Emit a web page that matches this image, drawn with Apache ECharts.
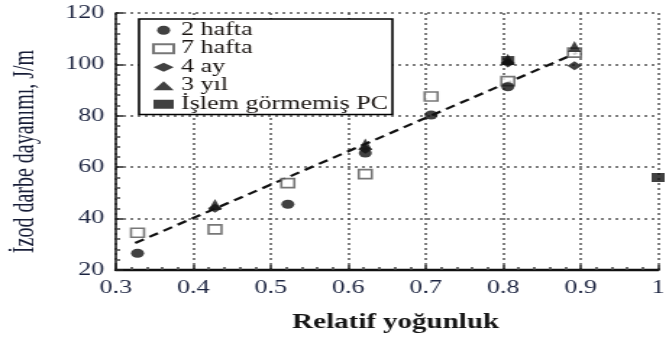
<!DOCTYPE html>
<html>
<head>
<meta charset="utf-8">
<script src="https://cdn.jsdelivr.net/npm/echarts@6/dist/echarts.min.js"></script>
<style>
  html, body { margin: 0; padding: 0; background: #fff; overflow: hidden; }
  body { width: 669px; height: 340px; }
  /* chart laid out narrow, then widened horizontally */
  #c { width: 462px; height: 340px; transform: scaleX(1.448); transform-origin: 0 0; }
</style>
</head>
<body>
<div id="c"></div>
<script>
// Relative density vs Izod impact strength
const seriesNames = ['2 hafta', '7 hafta', '4 ay', '3 yıl', 'İşlem görmemiş PC'];

const hafta2 = [[0.328, 26.5], [0.522, 45.6], [0.622, 65.5], [0.707, 80.3], [0.806, 91.3]];
const hafta7 = [[0.328, 34.5], [0.428, 35.8], [0.522, 53.8], [0.622, 57.3], [0.707, 87.5], [0.806, 93.5], [0.892, 104.6]];
const ay4 = [[0.428, 44.0], [0.622, 67.0], [0.806, 100.5], [0.892, 99.5]];
const yil3 = [[0.428, 45.5], [0.622, 69.0], [0.806, 102.0], [0.892, 107.0]];
const islemsizPC = [[0.806, 101.5], [1.0, 56.0]];
const trendLine = [[0.325, 30.5], [0.895, 104.5]];

// tick positions of both axes
const xTickValues = [0.3, 0.4, 0.5, 0.6, 0.7, 0.8, 0.9, 1.0];
const yTickValues = [20, 40, 60, 80, 100, 120];

const serif = 'Liberation Serif';
const black = '#111';
const gridDots = { color: '#555', width: 1.5, type: [2, 3] };

const xMin = xTickValues[0], xMax = xTickValues[xTickValues.length - 1];
const yMin = yTickValues[0], yMax = yTickValues[yTickValues.length - 1];

const chart = echarts.init(document.getElementById('c'), null, { renderer: 'canvas' });

chart.setOption({
  backgroundColor: '#fff',
  animation: false,
  grid: { left: 80, right: 1, top: 13, bottom: 70 },
  legend: {
    data: seriesNames,
    orient: 'vertical',
    left: 96,
    top: 19,
    padding: [2, 3, 1, 9],
    itemGap: 0,
    itemWidth: 14,
    itemHeight: 9,
    borderColor: '#000',
    borderWidth: 1.6,
    backgroundColor: '#fff',
    z: 10,
    textStyle: { fontFamily: serif, fontSize: 18, lineHeight: 18.5, color: '#1a1512' }
  },
  xAxis: {
    type: 'value',
    min: xMin, max: xMax, interval: 0.1,
    name: 'Relatif yoğunluk',
    nameLocation: 'middle',
    nameGap: 43,
    nameTextStyle: { fontFamily: serif, fontSize: 20, fontWeight: 'bold', color: '#151515', padding: [0, 0, 0, 12] },
    axisLine: { show: true, onZero: false, lineStyle: { color: '#111', width: 2.4 } },
    axisTick: { show: true, inside: true, length: 5, lineStyle: { color: '#222', width: 1.5 } },
    minorTick: { show: true, splitNumber: 5, length: 3, lineStyle: { color: '#444', width: 1.5 } },
    axisLabel: {
      fontFamily: serif, fontSize: 18, color: '#1c2440', margin: 9,
      formatter: v => (Math.abs(v - 1) < 1e-9 ? '1' : v.toFixed(1))
    },
    splitLine: { show: true, lineStyle: gridDots }
  },
  yAxis: {
    type: 'value',
    min: yMin, max: yMax, interval: 20,
    name: 'İzod darbe dayanımı, J/m',
    nameLocation: 'middle',
    nameGap: 52,
    nameRotate: 90,
    nameTextStyle: { fontFamily: serif, fontSize: 20, color: '#161c36', padding: [0, 20, 0, 0] },
    axisLine: { show: true, onZero: false, lineStyle: { color: '#111', width: 1.5 } },
    axisTick: { show: true, inside: true, length: 5, lineStyle: { color: '#222', width: 1.5 } },
    minorTick: { show: true, splitNumber: 5, length: 3, lineStyle: { color: '#444', width: 1.5 } },
    axisLabel: { fontFamily: serif, fontSize: 18, color: '#1c2440', margin: 8 },
    splitLine: { show: true, lineStyle: gridDots }
  },
  series: [
    {
      name: 'trend', type: 'line', data: trendLine, symbol: 'none', silent: true, z: 1,
      lineStyle: { color: '#111', width: 2.2, type: [7, 4.5] }
    },
    {
      name: seriesNames[0], type: 'scatter', data: hafta2, symbol: 'circle', symbolSize: 9,
      itemStyle: { color: black }, z: 3
    },
    {
      name: seriesNames[1], type: 'scatter', data: hafta7, symbol: 'rect', symbolSize: 9,
      itemStyle: { color: '#fff', borderColor: '#555', borderWidth: 1.6 }, z: 2
    },
    {
      name: seriesNames[2], type: 'scatter', data: ay4, symbol: 'diamond', symbolSize: [10, 9],
      itemStyle: { color: black }, z: 3
    },
    {
      name: seriesNames[3], type: 'scatter', data: yil3, symbol: 'triangle', symbolSize: [9, 11],
      itemStyle: { color: black }, z: 3
    },
    {
      name: seriesNames[4], type: 'scatter', data: islemsizPC, symbol: 'rect', symbolSize: 9,
      itemStyle: { color: black }, z: 3, clip: false
    }
  ]
});
</script>
</body>
</html>
